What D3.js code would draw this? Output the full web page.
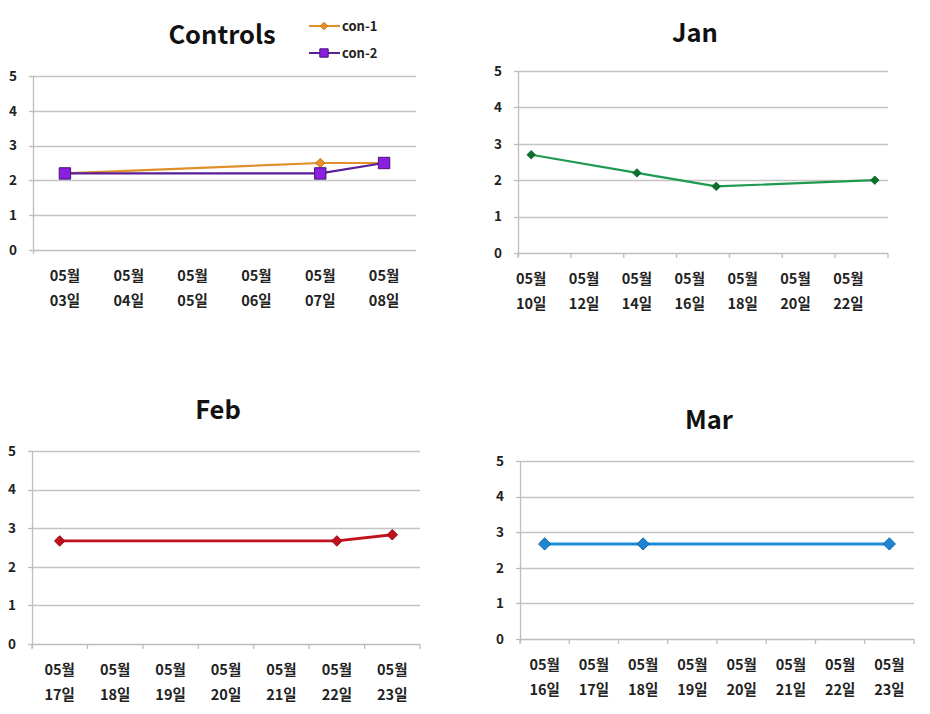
<!DOCTYPE html>
<html><head><meta charset="utf-8">
<script src="https://cdn.jsdelivr.net/npm/d3@7"></script>
<style>body{margin:0;background:#fff;} svg{display:block;}</style>
</head><body>
<svg id="c" width="930" height="714"></svg>
<script>
// ---- data ----
const yTicks = [0, 1, 2, 3, 4, 5];
const monthLabel = "05월";

const controlsTickDays = [3, 4, 5, 6, 7, 8];
const con1Days = [3, 7, 8];
const con1Values = [2.2, 2.5, 2.5];
const con2Days = [3, 7, 8];
const con2Values = [2.2, 2.2, 2.5];

const janTickDays = [10, 12, 14, 16, 18, 20, 22];
const janDays = [10, 14, 17, 23];
const janValues = [2.7, 2.2, 1.83, 2.0];

const febTickDays = [17, 18, 19, 20, 21, 22, 23];
const febDays = [17, 22, 23];
const febValues = [2.67, 2.67, 2.83];

const marTickDays = [16, 17, 18, 19, 20, 21, 22, 23];
const marDays = [16, 18, 23];
const marValues = [2.67, 2.67, 2.67];

const font = "'Noto Sans CJK KR', 'Noto Sans', sans-serif";
const svg = d3.select("#c");

function pad2(d){ return (d < 10 ? "0" : "") + d; }

function panel(cfg) {
  const g = svg.append("g");
  const x = d3.scaleLinear().domain([cfg.d0, cfg.d1]).range([cfg.left, cfg.right]);
  const y = d3.scaleLinear().domain([0, 5]).range([cfg.bottom, cfg.top]);

  // gridlines
  g.selectAll("line.grid").data(yTicks.filter(t => t > 0)).join("line")
    .attr("x1", cfg.left).attr("x2", cfg.right)
    .attr("y1", d => Math.round(y(d)) + 0.5).attr("y2", d => Math.round(y(d)) + 0.5)
    .attr("stroke", "#c4c4c4").attr("stroke-width", 1.3);
  // axes lines
  g.append("line").attr("x1", cfg.left).attr("x2", cfg.right)
    .attr("y1", Math.round(cfg.bottom) + 0.5).attr("y2", Math.round(cfg.bottom) + 0.5)
    .attr("stroke", "#bdbdbd").attr("stroke-width", 1.3);
  g.append("line").attr("x1", cfg.left + 0.5).attr("x2", cfg.left + 0.5)
    .attr("y1", cfg.top).attr("y2", cfg.bottom + 4)
    .attr("stroke", "#bdbdbd").attr("stroke-width", 1.3);
  // y tick marks
  g.selectAll("line.yt").data(yTicks).join("line")
    .attr("x1", cfg.left - 4).attr("x2", cfg.left)
    .attr("y1", d => Math.round(y(d)) + 0.5).attr("y2", d => Math.round(y(d)) + 0.5)
    .attr("stroke", "#bdbdbd").attr("stroke-width", 1.3);
  // y labels
  g.selectAll("text.yl").data(yTicks).join("text")
    .attr("x", cfg.left - 16).attr("y", d => y(d))
    .attr("dy", "0.36em").attr("text-anchor", "end")
    .attr("font-family", font).attr("font-size", 13.5).attr("font-weight", 600)
    .attr("fill", "#222").text(d => d);
  // x tick marks (boundaries)
  if (cfg.xTicks) {
    const bounds = d3.range(cfg.d0, cfg.d1 + 0.001, cfg.step);
    g.selectAll("line.xt").data(bounds).join("line")
      .attr("x1", d => x(d)).attr("x2", d => x(d))
      .attr("y1", cfg.bottom).attr("y2", cfg.bottom + 5)
      .attr("stroke", "#bdbdbd").attr("stroke-width", 1.3);
  }
  // x labels
  const xl = g.selectAll("g.xl").data(cfg.tickDays).join("g")
    .attr("transform", d => `translate(${x(d + 0.5)},0)`);
  xl.append("text").attr("y", cfg.bottom + 31).attr("text-anchor", "middle")
    .attr("font-family", font).attr("font-size", 14.5).attr("font-weight", 600)
    .attr("fill", "#222").text(monthLabel);
  xl.append("text").attr("y", cfg.bottom + 56).attr("text-anchor", "middle")
    .attr("font-family", font).attr("font-size", 14.5).attr("font-weight", 600)
    .attr("fill", "#222").text(d => pad2(d) + "일");
  // title
  g.append("text").attr("x", cfg.titleX).attr("y", cfg.titleY).attr("text-anchor", "middle")
    .attr("font-family", font).attr("font-size", 25.5).attr("font-weight", 700)
    .attr("fill", "#111").text(cfg.title);

  // series
  cfg.series.forEach(s => {
    const pts = s.days.map((d, i) => [x(d + 0.5), y(s.values[i])]);
    g.append("path").attr("d", d3.line()(pts)).attr("fill", "none")
      .attr("stroke", s.color).attr("stroke-width", s.width).attr("stroke-linejoin", "round");
    const sym = d3.symbol().type(s.marker === "square" ? d3.symbolSquare : d3.symbolDiamond2).size(s.msize);
    g.selectAll(null).data(pts).join("path")
      .attr("transform", p => `translate(${p[0]},${p[1]})`)
      .attr("d", sym).attr("fill", s.mfill).attr("stroke", s.mstroke).attr("stroke-width", 1);
  });
  return {x, y};
}

const con1Style = {color: "#e08f2a", width: 2.2, marker: "diamond", msize: 55, mfill: "#e8902a", mstroke: "#c87818"};
const con2Style = {color: "#5a1f96", width: 2.2, marker: "square", msize: 130, mfill: "#8a1fe0", mstroke: "#4a1078"};

panel({title: "Controls", titleX: 222, titleY: 44, left: 33, right: 416, top: 76, bottom: 250,
  d0: 3, d1: 9, step: 1, xTicks: false, tickDays: controlsTickDays,
  series: [
    Object.assign({days: con1Days, values: con1Values}, con1Style),
    Object.assign({days: con2Days, values: con2Values}, con2Style)
  ]});

panel({title: "Jan", titleX: 695, titleY: 42, left: 518, right: 888, top: 71, bottom: 253,
  d0: 10, d1: 24, step: 2, xTicks: true, tickDays: janTickDays,
  series: [{days: janDays, values: janValues, color: "#1e9a4e", width: 2.2, marker: "diamond", msize: 45, mfill: "#0d6e30", mstroke: "#0d6e30"}]});

panel({title: "Feb", titleX: 218, titleY: 419, left: 32, right: 420, top: 451, bottom: 644,
  d0: 17, d1: 24, step: 1, xTicks: true, tickDays: febTickDays,
  series: [{days: febDays, values: febValues, color: "#c0121c", width: 2.8, marker: "diamond", msize: 70, mfill: "#c0121c", mstroke: "#a00c14"}]});

panel({title: "Mar", titleX: 709, titleY: 429, left: 520, right: 914, top: 461, bottom: 639,
  d0: 16, d1: 24, step: 1, xTicks: true, tickDays: marTickDays,
  series: [{days: marDays, values: marValues, color: "#1c8ad6", width: 3, marker: "diamond", msize: 95, mfill: "#1c86d4", mstroke: "#1468a8"}]});

// legend for Controls
const leg = svg.append("g");
[[ "con-1", con1Style, 26 ], [ "con-2", con2Style, 53 ]].forEach(([name, s, yy]) => {
  leg.append("line").attr("x1", 309).attr("x2", 340).attr("y1", yy).attr("y2", yy)
    .attr("stroke", s.color).attr("stroke-width", 2);
  const sym = d3.symbol().type(s.marker === "square" ? d3.symbolSquare : d3.symbolDiamond2)
    .size(s.marker === "square" ? 70 : 35);
  leg.append("path").attr("transform", `translate(324,${yy})`).attr("d", sym)
    .attr("fill", s.mfill).attr("stroke", s.mstroke);
  leg.append("text").attr("x", 342).attr("y", yy).attr("dy", "0.36em")
    .attr("font-family", font).attr("font-size", 13).attr("font-weight", 600)
    .attr("fill", "#222").text(name);
});
</script>
</body></html>
